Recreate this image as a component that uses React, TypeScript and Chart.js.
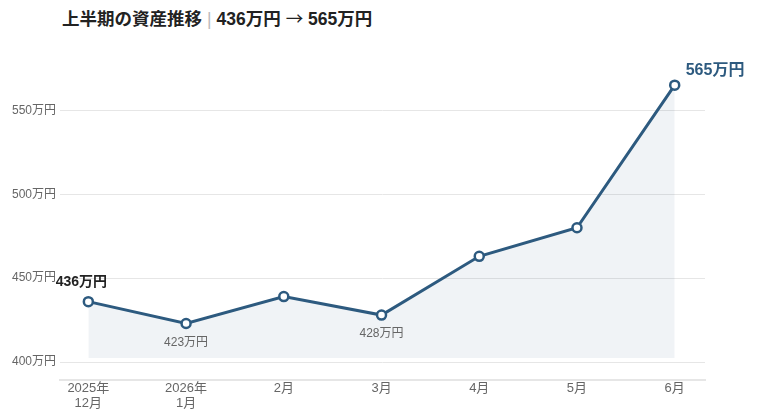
import { useEffect, useRef } from 'react';
import { Chart, registerables } from 'chart.js';
import type { ChartConfiguration, Plugin } from 'chart.js';

Chart.register(...registerables);

const months: string[][] = [['2025年', '12月'], ['2026年', '1月'], ['2月'], ['3月'], ['4月'], ['5月'], ['6月']];
const assets: number[] = [436, 423, 439, 428, 463, 480, 565];
const yTicks: number[] = [400, 450, 500, 550];
// which points get a value label, and how
const labelled: { index: number; place: 'above' | 'below' | 'right' }[] = [
  { index: 0, place: 'above' },
  { index: 1, place: 'below' },
  { index: 3, place: 'below' },
  { index: 6, place: 'right' },
];

const LINE = '#2d5a7f';
const FONT = '"Liberation Sans", "Noto Sans CJK JP", sans-serif';

const valueLabels: Plugin<'line'> = {
  id: 'valueLabels',
  afterDatasetsDraw(chart) {
    const ctx = chart.ctx;
    const meta = chart.getDatasetMeta(0);
    ctx.save();
    labelled.forEach(({ index, place }) => {
      const pt = meta.data[index];
      const text = `${assets[index]}万円`;
      if (place === 'above') {
        ctx.font = `bold 14px ${FONT}`;
        ctx.fillStyle = '#222';
        ctx.textAlign = 'center';
        ctx.textBaseline = 'bottom';
        ctx.fillText(text, pt.x - 7, pt.y - 12);
      } else if (place === 'below') {
        ctx.font = `12px ${FONT}`;
        ctx.fillStyle = '#666';
        ctx.textAlign = 'center';
        ctx.textBaseline = 'top';
        ctx.fillText(text, pt.x, pt.y + 13);
      } else {
        ctx.font = `bold 16px ${FONT}`;
        ctx.fillStyle = LINE;
        ctx.textAlign = 'left';
        ctx.textBaseline = 'bottom';
        ctx.fillText(text, pt.x + 11, pt.y - 7);
      }
    });
    ctx.restore();
  },
};

function AssetChart() {
  const canvasRef = useRef<HTMLCanvasElement>(null);
  const chartRef = useRef<Chart | null>(null);

  useEffect(() => {
    if (!canvasRef.current) return;
    if (chartRef.current) chartRef.current.destroy();

    const config: ChartConfiguration<'line'> = {
      type: 'line',
      data: {
        datasets: [
          {
            data: assets.map((v, i) => ({ x: i, y: v })),
            borderColor: LINE,
            borderWidth: 3,
            backgroundColor: 'rgba(45, 90, 127, 0.07)',
            fill: { value: 402.4 },
            pointBackgroundColor: '#fff',
            pointBorderColor: LINE,
            pointBorderWidth: 2.5,
            pointRadius: 4.5,
            tension: 0,
          },
        ],
      },
      options: {
        animation: false,
        responsive: true,
        maintainAspectRatio: false,
        layout: { padding: { left: 0, right: 55, top: 60, bottom: 0 } },
        plugins: {
          legend: { display: false },
          tooltip: { enabled: false },
        },
        scales: {
          x: {
            type: 'linear',
            min: -0.29,
            max: 6.31,
            afterBuildTicks: (scale) => {
              scale.ticks = months.map((_, i) => ({ value: i }));
            },
            afterFit: (scale) => {
              scale.height = 39;
            },
            ticks: {
              callback: (value) => months[Number(value)] ?? '',
              color: '#666',
              font: { size: 13, family: FONT, lineHeight: 1.15 },
              padding: 1,
              maxRotation: 0,
            },
            grid: { display: false, drawTicks: false },
            border: { display: true, color: '#e6e6e6', width: 2 },
          },
          y: {
            min: 389.3,
            max: 580,
            afterBuildTicks: (scale) => {
              scale.ticks = yTicks.map((v) => ({ value: v }));
            },
            afterFit: (scale) => {
              scale.width = 60;
            },
            ticks: {
              callback: (value) => `${value}万円`,
              color: '#666',
              font: { size: 12, family: FONT },
              padding: 4,
            },
            grid: { color: '#e6e6e6', drawTicks: false },
            border: { display: false },
          },
        },
      },
      plugins: [valueLabels],
    };

    chartRef.current = new Chart(canvasRef.current, config);
    return () => {
      chartRef.current?.destroy();
      chartRef.current = null;
    };
  }, []);

  return <canvas ref={canvasRef} />;
}

export default function App() {
  return (
    <div style={{ position: 'fixed', left: 0, top: 0, width: 760, height: 419, background: '#fff', fontFamily: FONT }}>
      <div
        style={{
          position: 'absolute',
          left: 62,
          top: 5,
          fontSize: 17.5,
          fontWeight: 700,
          color: '#222',
          whiteSpace: 'nowrap',
        }}
      >
        上半期の資産推移<span style={{ color: '#bbb', fontWeight: 400, margin: '0 5px' }}>|</span>436万円{' '}
        <span style={{ fontFamily: '"Noto Sans CJK JP", sans-serif', fontWeight: 400 }}>→</span> 565万円
      </div>
      <div style={{ position: 'absolute', inset: 0 }}>
        <AssetChart />
      </div>
    </div>
  );
}
